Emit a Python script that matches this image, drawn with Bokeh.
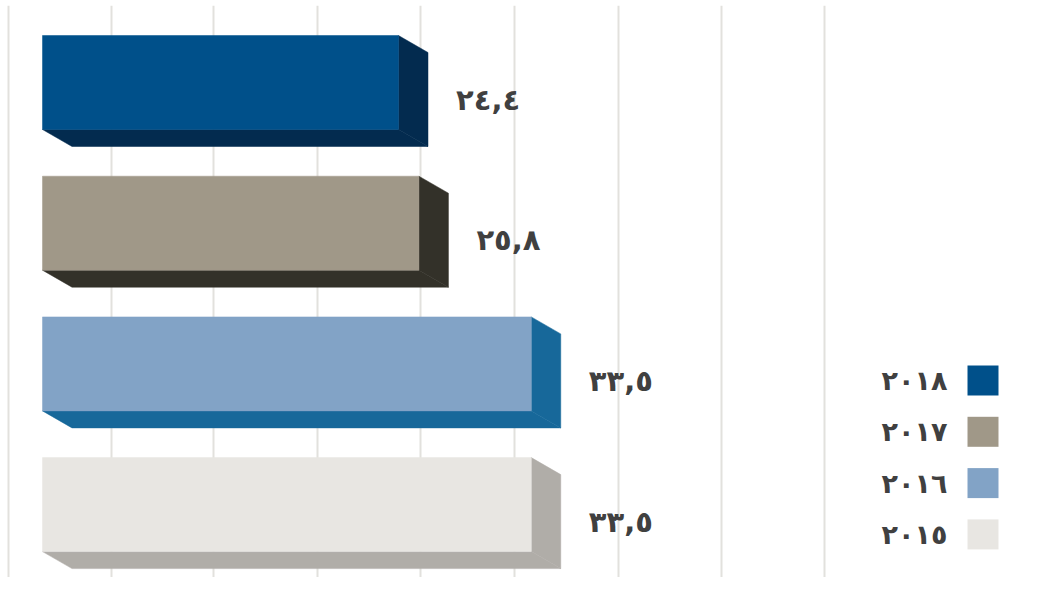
from bokeh.plotting import figure
from bokeh.models import Range1d, FixedTicker
from bokeh.embed import file_html
from bokeh.resources import INLINE
from bokeh.core.properties import value

# ---- data ----
years = ["٢٠١٨", "٢٠١٧", "٢٠١٦", "٢٠١٥"]
values = [24.4, 25.8, 33.5, 33.5]
labels = ["٢٤,٤", "٢٥,٨", "٣٣,٥", "٣٣,٥"]
front_colors = ["#00508A", "#A09888", "#82A3C6", "#E8E6E2"]
side_colors = ["#032B4F", "#333129", "#17689A", "#B0ADA8"]
grid_values = [-2.34, 4.74, 11.75, 18.83, 25.91, 32.37, 39.45, 46.53, 53.61]

# ---- layout helpers (pixel <-> data) ----
W, H = 1031, 577
KX = 14.59          # px per value unit
X0 = 42             # px of value 0
KY = 140.7          # px per category
Y0 = 82             # px of first category centre

def xd(px):
    return (px - X0) / KX

def yd(py):
    return (py - Y0) / KY

p = figure(width=W, height=H, output_backend="svg", toolbar_location=None,
           x_range=Range1d(xd(0), xd(W)), y_range=Range1d(yd(H), yd(5)),
           min_border=0)
p.axis.visible = False
p.outline_line_color = None
p.ygrid.grid_line_color = None
p.xgrid.ticker = FixedTicker(ticks=grid_values)
p.xgrid.grid_line_color = "#E2E1DD"
p.xgrid.grid_line_width = 2
p.background_fill_color = "white"
p.border_fill_color = "white"
p.min_border_top = 5

h = 94 / KY
dx = 29.5 / KX
dy = 17 / KY

for i, (v, fc, sc) in enumerate(zip(values, front_colors, side_colors)):
    top = i - h / 2
    bot = i + h / 2
    # bottom face
    p.patch([0, v, v + dx, dx], [bot, bot, bot + dy, bot + dy],
            fill_color=sc, line_color=sc, line_width=0.5)
    # right face
    p.patch([v, v + dx, v + dx, v], [top, top + dy, bot + dy, bot],
            fill_color=sc, line_color=sc, line_width=0.5)

p.hbar(y=list(range(len(values))), left=0, right=values, height=h,
       fill_color=front_colors, line_color=front_colors, line_width=0.5)

# value labels
p.text(x=[v + dx + 28 / KX for v in values],
       y=[i + 17 / KY for i in range(len(values))],
       text=labels, text_font=value("DejaVu Sans"), text_font_size="29px",
       text_font_style="bold",
       text_color="#404040", text_align="left", text_baseline="middle")

# legend (drawn)
leg_y = [yd(380 + k * 51.3) for k in range(len(years))]
p.rect(x=[xd(982.5)] * len(years), y=leg_y, width=31, height=30,
       width_units="screen", height_units="screen",
       fill_color=front_colors, line_color=None)
p.text(x=[xd(947)] * len(years), y=leg_y, text=years,
       text_font=value("DejaVu Sans"), text_font_size="27px",
       text_font_style="bold",
       text_color="#404040", text_align="right", text_baseline="middle")

open("out.html", "w").write(file_html(p, INLINE))
